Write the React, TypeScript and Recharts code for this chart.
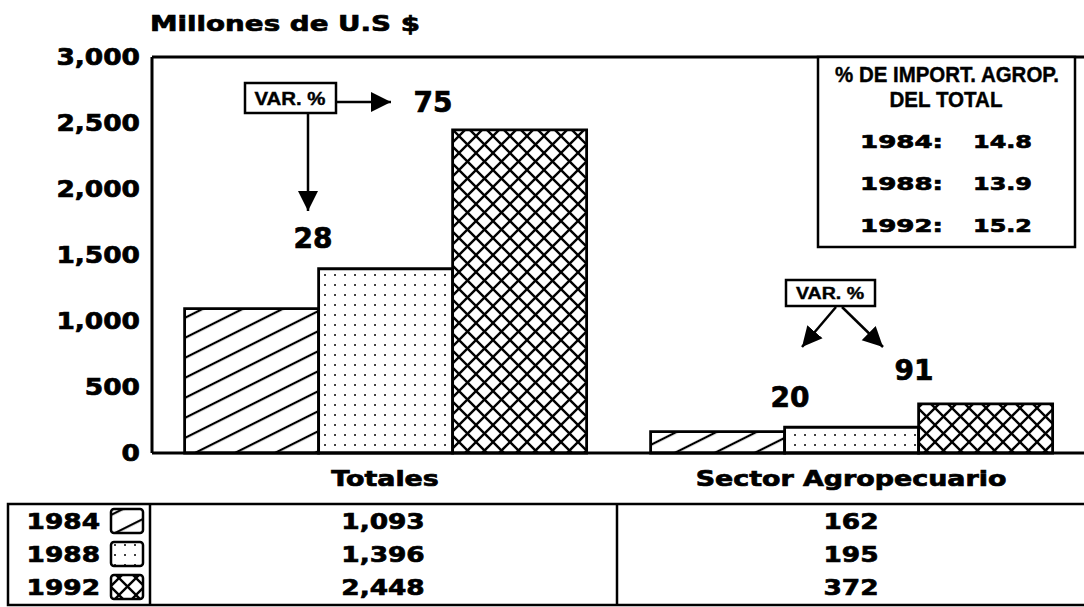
import React from 'react';
import { BarChart, Bar, XAxis, YAxis, ReferenceLine } from 'recharts';

const categories = ['Totales', 'Sector Agropecuario'];
const years = ['1984', '1988', '1992'];
const v1984 = [1093, 162];
const v1988 = [1396, 195];
const v1992 = [2448, 372];
const yTicks = [0, 500, 1000, 1500, 2000, 2500, 3000];
const shareValues = ['14.8', '13.9', '15.2'];
const varTotales = ['28', '75'];
const varAgro = ['20', '91'];

const FONT = 'DejaVu Sans, sans-serif';
const NARROW = 'Liberation Sans, Arial, sans-serif';
const fills = ['url(#hatch)', 'url(#dots)', 'url(#cross)'];

const data = categories.map((name, i) => ({
  name,
  y1984: v1984[i],
  y1988: v1988[i],
  y1992: v1992[i],
}));

const fmt = (v: number) => v.toLocaleString('en-US');

// stretched heavy text, like the old plotter font
function T({ x, y, children, anchor = 'middle', size = 22, sx = 1, w, family = FONT, heavy = 0.7 }: any) {
  return (
    <text
      transform={`translate(${x},${y}) scale(${sx},1)`}
      textAnchor={anchor}
      fontFamily={family}
      fontWeight="bold"
      fontSize={size}
      fill="#000"
      stroke="#000"
      strokeWidth={heavy}
      textLength={w}
      lengthAdjust={w ? 'spacingAndGlyphs' : undefined}
    >
      {children}
    </text>
  );
}

function YTick(props: any) {
  const { x, y, payload } = props;
  return <T x={x} y={y + 8} anchor="end" size={23} sx={1.15}>{fmt(payload.value)}</T>;
}

function XTick(props: any) {
  const { x, y, payload } = props;
  return <T x={x} y={y + 25} size={21} sx={1.28}>{payload.value}</T>;
}

function Overlay() {
  const rows = [521, 554, 587];
  return (
    <svg width={1084} height={607} style={{ position: 'absolute', left: 0, top: 0, pointerEvents: 'none' }}>
      <defs>
        <pattern id="hatch" patternUnits="userSpaceOnUse" width={20} height={17.9} patternTransform="rotate(-26.6)">
          <line x1={-2} y1={9} x2={22} y2={9} stroke="#000" strokeWidth={2.2} />
        </pattern>
        <pattern id="dots" patternUnits="userSpaceOnUse" width={10} height={10}>
          <rect width={10} height={10} fill="#fff" />
          <circle cx={5} cy={5} r={1} fill="#000" />
        </pattern>
        <pattern id="cross" patternUnits="userSpaceOnUse" width={17} height={17}>
          <rect width={17} height={17} fill="#fff" />
          <line x1={-1} y1={-1} x2={18} y2={18} stroke="#000" strokeWidth={2.4} />
          <line x1={-1} y1={18} x2={18} y2={-1} stroke="#000" strokeWidth={2.4} />
        </pattern>
        <marker id="arrow" viewBox="0 0 20 20" refX={20} refY={10} markerWidth={20} markerHeight={22}
          markerUnits="userSpaceOnUse" orient="auto">
          <path d="M0,0 L20,10 L0,20 z" fill="#000" />
        </marker>
      </defs>

      <T x={150} y={31} anchor="start" size={22} w={270}>Millones de U.S $</T>

      {/* VAR % Totales */}
      <rect x={245} y={83} width={91} height={30} fill="#fff" stroke="#000" strokeWidth={2.5} />
      <T x={290} y={105} size={18} family={NARROW} w={71} heavy={0.4}>VAR. %</T>
      <line x1={336} y1={102} x2={391} y2={102} stroke="#000" strokeWidth={2.5} markerEnd="url(#arrow)" />
      <line x1={308} y1={113} x2={308} y2={211} stroke="#000" strokeWidth={2.5} markerEnd="url(#arrow)" />
      <T x={433} y={112} size={28}>{varTotales[1]}</T>
      <T x={313} y={248} size={28}>{varTotales[0]}</T>

      {/* VAR % Agro */}
      <rect x={786} y={280} width={89} height={26} fill="#fff" stroke="#000" strokeWidth={2.5} />
      <T x={830} y={299} size={16} family={NARROW} w={68} heavy={0.4}>VAR. %</T>
      <line x1={836} y1={307} x2={802} y2={347} stroke="#000" strokeWidth={2.5} markerEnd="url(#arrow)" />
      <line x1={842} y1={307} x2={883} y2={347} stroke="#000" strokeWidth={2.5} markerEnd="url(#arrow)" />
      <T x={914} y={380} size={28}>{varAgro[1]}</T>
      <T x={790} y={407} size={28}>{varAgro[0]}</T>

      {/* share box */}
      <rect x={818} y={57} width={257} height={190} fill="#fff" stroke="#000" strokeWidth={2.5} />
      <T x={947} y={82} size={22} family={NARROW} w={224} heavy={0.4}>% DE IMPORT. AGROP.</T>
      <T x={946} y={107} size={22} family={NARROW} w={113} heavy={0.4}>DEL TOTAL</T>
      {years.map((yr, i) => (
        <g key={yr}>
          <T x={860} y={148 + i * 42} anchor="start" size={18} w={83}>{yr + ':'}</T>
          <T x={1032} y={148 + i * 42} anchor="end" size={18} w={59}>{shareValues[i]}</T>
        </g>
      ))}

      {/* table */}
      <rect x={8} y={504} width={1090} height={101} fill="none" stroke="#000" strokeWidth={2.5} />
      <line x1={150} y1={504} x2={150} y2={605} stroke="#000" strokeWidth={2.5} />
      <line x1={617} y1={504} x2={617} y2={605} stroke="#000" strokeWidth={2.5} />
      {years.map((yr, i) => (
        <g key={yr}>
          <T x={100} y={rows[i] + 8} anchor="end" size={22} sx={1.2}>{yr}</T>
          <rect x={111} y={rows[i] - 12} width={32} height={24} rx={3} fill={fills[i]} stroke="#000" strokeWidth={2.5} />
          <T x={383} y={rows[i] + 8} size={22} sx={1.2}>{fmt([v1984, v1988, v1992][i][0])}</T>
          <T x={851} y={rows[i] + 8} size={22} sx={1.2}>{fmt([v1984, v1988, v1992][i][1])}</T>
        </g>
      ))}
    </svg>
  );
}

export default function App() {
  return (
    <div style={{ position: 'absolute', left: 0, top: 0, width: 1084, height: 607, background: '#fff' }}>
      <BarChart width={1084} height={500} data={data} margin={{ top: 57, right: 0, left: 0, bottom: 0 }}
        barCategoryGap="7%" barGap={0}>
        <XAxis dataKey="name" height={47} axisLine={{ stroke: '#000', strokeWidth: 3 }} tickLine={false}
          tick={<XTick />} interval={0} />
        <YAxis width={152} domain={[0, 3000]} ticks={yTicks} interval={0} axisLine={{ stroke: '#000', strokeWidth: 3 }}
          tickLine={false} tickMargin={6} tick={<YTick />} />
        <ReferenceLine y={3000} stroke="#000" strokeWidth={3} />
        <Bar dataKey="y1984" fill={fills[0]} stroke="#000" strokeWidth={2.8} isAnimationActive={false} />
        <Bar dataKey="y1988" fill={fills[1]} stroke="#000" strokeWidth={2.8} isAnimationActive={false} />
        <Bar dataKey="y1992" fill={fills[2]} stroke="#000" strokeWidth={2.8} isAnimationActive={false} />
      </BarChart>
      <Overlay />
    </div>
  );
}
